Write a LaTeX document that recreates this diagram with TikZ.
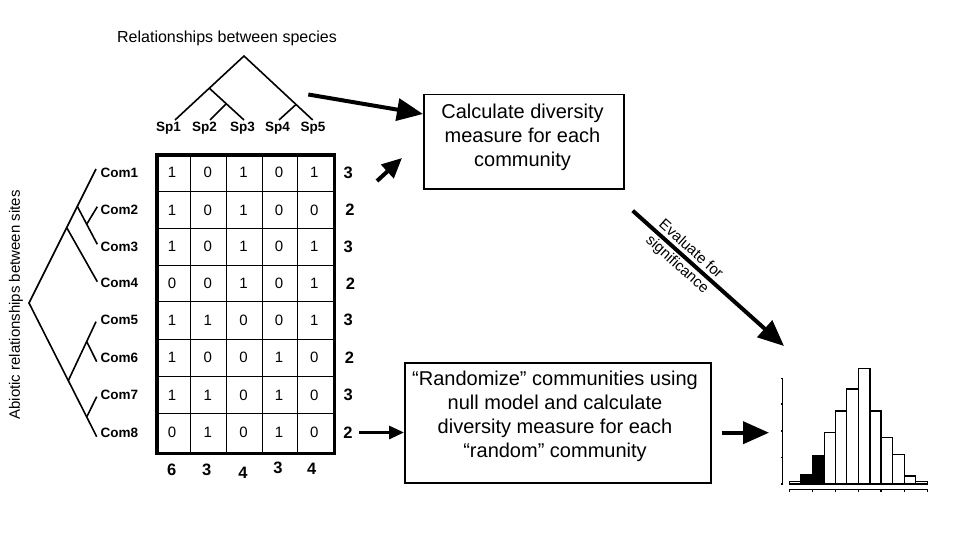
\documentclass[tikz,border=0pt]{standalone}
\usepackage{fontspec}
\setmainfont{Liberation Sans}
\usetikzlibrary{arrows.meta}
\begin{document}
\begin{tikzpicture}[x=1pt,y=-1pt,
  treeline/.style={line width=1.6pt},
  boxnode/.style={draw, line width=1.5pt, inner sep=0pt},
  bigarrow/.style={line width=4pt, -{Triangle[length=26pt,width=22pt]}},
  midarrow/.style={line width=4pt, -{Triangle[length=20pt,width=18pt]}},
  smallarrow/.style={line width=3pt, -{Triangle[length=15pt,width=13pt]}},
  cell/.style={inner sep=0pt, font=\fontsize{15}{17}\selectfont},
  sumlab/.style={inner sep=0pt, font=\fontsize{16.5}{18}\selectfont\bfseries},
  comlab/.style={inner sep=0pt, anchor=west, font=\fontsize{13.5}{15}\selectfont\bfseries},
  splab/.style={inner sep=0pt, font=\fontsize{13.5}{15}\selectfont\bfseries},
  boxtext/.style={inner sep=0pt, align=center, font=\fontsize{20}{24}\selectfont},
  evtext/.style={inner sep=0pt, rotate=-41.8, font=\fontsize{15}{18}\selectfont},
  bar/.style={draw, line width=1.4pt, fill=white},
  blackbar/.style={draw, line width=1.4pt, fill=black},
  axisline/.style={line width=1.4pt}]
\useasboundingbox (0,0) rectangle (960,540);

% ---------- title and species tree ----------
\node[inner sep=0pt, font=\fontsize{16}{19}\selectfont] (title) at (227,38) {Relationships between species};
\coordinate (sroot) at (244,56);
\coordinate (sn1) at (209.3,88.2);
\coordinate (sn23) at (226,104);
\coordinate (sn45) at (296,104.5);
\coordinate (st1) at (175,120);
\coordinate (st2) at (210,120);
\coordinate (st3) at (244,120);
\coordinate (st4) at (279,120);
\coordinate (st5) at (312.7,120);
\draw[treeline] (st1) -- (sroot) -- (st5);
\draw[treeline] (sn1) -- (st3);
\draw[treeline] (sn23) -- (st2);
\draw[treeline] (sn45) -- (st4);
\node[splab] (sp1) at (168.5,128.5) {Sp1};
\node[splab] (sp2) at (204.5,128.5) {Sp2};
\node[splab] (sp3) at (242.5,128.5) {Sp3};
\node[splab] (sp4) at (277.5,128.5) {Sp4};
\node[splab] (sp5) at (313,128.5) {Sp5};

% ---------- site tree ----------
\node[inner sep=0pt, rotate=90, font=\fontsize{15}{18}\selectfont] (sitelab) at (16,305) {Abiotic relationships between sites};
\coordinate (rroot) at (29,303);
\coordinate (rA) at (66.7,227.6);
\coordinate (rB) at (77.3,206.4);
\coordinate (r23) at (86.7,224.2);
\coordinate (rC) at (68.3,380.6);
\coordinate (r56) at (86.7,341.5);
\coordinate (r78) at (86.7,417);
\coordinate (rt1) at (96,169);
\coordinate (rt2) at (97.3,206.7);
\coordinate (rt3) at (97.3,244.3);
\coordinate (rt4) at (97.3,281.7);
\coordinate (rt5) at (96,321.7);
\coordinate (rt6) at (96.7,361.7);
\coordinate (rt7) at (96.7,396.7);
\coordinate (rt8) at (96.7,436.7);
\draw[treeline] (rt1) -- (rroot) -- (rt8);
\draw[treeline] (rB) -- (rt3);
\draw[treeline] (r23) -- (rt2);
\draw[treeline] (rA) -- (rt4);
\draw[treeline] (rC) -- (rt5);
\draw[treeline] (r56) -- (rt6);
\draw[treeline] (r78) -- (rt7);

% ---------- matrix ----------
\foreach \x in {190.7,226.7,262.3,297.7} \draw[line width=1pt] (\x,153.3) -- (\x,451.7);
\foreach \y in {191.7,228.3,265,301.7,339,376.7,413.3} \draw[line width=1pt] (155,\y) -- (332.7,\y);
\node[draw, line width=3.5pt, minimum width=177.7pt, minimum height=298.4pt, anchor=north west, inner sep=0pt] (mat) at (155,153.3) {};

\foreach \r/\yc/\a/\b/\c/\d/\e/\s/\sx in {
  1/172.5/1/0/1/0/1/3/348.3,
  2/210/1/0/1/0/0/2/350,
  3/246.7/1/0/1/0/1/3/348.3,
  4/283.3/0/0/1/0/1/2/350.5,
  5/320.3/1/1/0/0/1/3/348.3,
  6/357.8/1/0/0/1/0/2/349.5,
  7/395/1/1/0/1/0/3/348.3,
  8/432.5/0/1/0/1/0/2/348} {
  \node[cell] (c\r-1) at (172,\yc) {\a};
  \node[cell] (c\r-2) at (207.7,\yc) {\b};
  \node[cell] (c\r-3) at (243.5,\yc) {\c};
  \node[cell] (c\r-4) at (279,\yc) {\d};
  \node[cell] (c\r-5) at (314.2,\yc) {\e};
  \node[sumlab] (rs\r) at (\sx,\yc) {\s};
  \node[comlab] (com\r) at (100.5,\yc) {Com\r};
}
\node[sumlab] (cs1) at (171.7,470) {6};
\node[sumlab] (cs2) at (206.7,470) {3};
\node[sumlab] (cs3) at (243,473) {4};
\node[sumlab] (cs4) at (278,468.3) {3};
\node[sumlab] (cs5) at (311.7,469.3) {4};

% ---------- boxes ----------
\node[boxnode, minimum width=200pt, minimum height=94pt, anchor=north west] (box1) at (423,94) {};
\node[boxtext] (box1text) at (522.5,137) {Calculate diversity\\measure for each\\community};
\node[boxnode, minimum width=306pt, minimum height=120pt, anchor=north west] (box2) at (404,362) {};
\node[boxtext] (box2text) at (555,416.5) {“Randomize” communities using\\null model and calculate\\diversity measure for each\\“random” community};

% ---------- arrows ----------
\coordinate (a1s) at (308.3,94.5);
\draw[bigarrow] (a1s) -- (box1.west |- 0,114);
\coordinate (a2s) at (377,181);
\coordinate (a2e) at (402,158);
\draw[midarrow] (a2s) -- (a2e);
\coordinate (a3s) at (359,432.5);
\draw[smallarrow] (a3s) -- (box2.west |- 0,432.5);
\coordinate (a4s) at (721.7,432.7);
\coordinate (a4e) at (769,432.7);
\draw[bigarrow] (a4s) -- (a4e);
\coordinate (evs) at (632.7,210.7);
\coordinate (eve) at (784,346);
\draw[bigarrow] (evs) -- (eve);
\node[evtext] (evlab1) at (691.5,248.5) {Evaluate for};
\node[evtext] (evlab2) at (677,265) {significance};

% ---------- histogram ----------
\draw[axisline] (780.5,378.3) -- (782.7,378.3) -- (782.7,484) -- (780.5,484);
\foreach \y in {404,431,457.3} \draw[axisline] (780.5,\y) -- (782.7,\y);
\draw[axisline] (789.3,491.5) -- (789.3,489.3) -- (927.3,489.3) -- (927.3,491.5);
\foreach \x in {812.3,835.7,858.3,881,904.3} \draw[axisline] (\x,489.3) -- (\x,491.5);
\draw[bar] (789.3,484) rectangle (800.7,481.7);
\draw[blackbar] (800.7,484) rectangle (812.3,475);
\draw[blackbar] (812.3,484) rectangle (824.3,456);
\draw[bar] (824.3,484) rectangle (835.7,432.3);
\draw[bar] (835.7,484) rectangle (846.7,411);
\draw[bar] (846.7,484) rectangle (858.3,389);
\draw[bar] (858.3,484) rectangle (870,368.3);
\draw[bar] (870,484) rectangle (881,411);
\draw[bar] (881,484) rectangle (892.7,437.3);
\draw[bar] (892.7,484) rectangle (904.3,454.3);
\draw[bar] (904.3,484) rectangle (915.7,476);
\draw[bar] (915.7,484) rectangle (927.3,481.7);
\end{tikzpicture}
\end{document}
